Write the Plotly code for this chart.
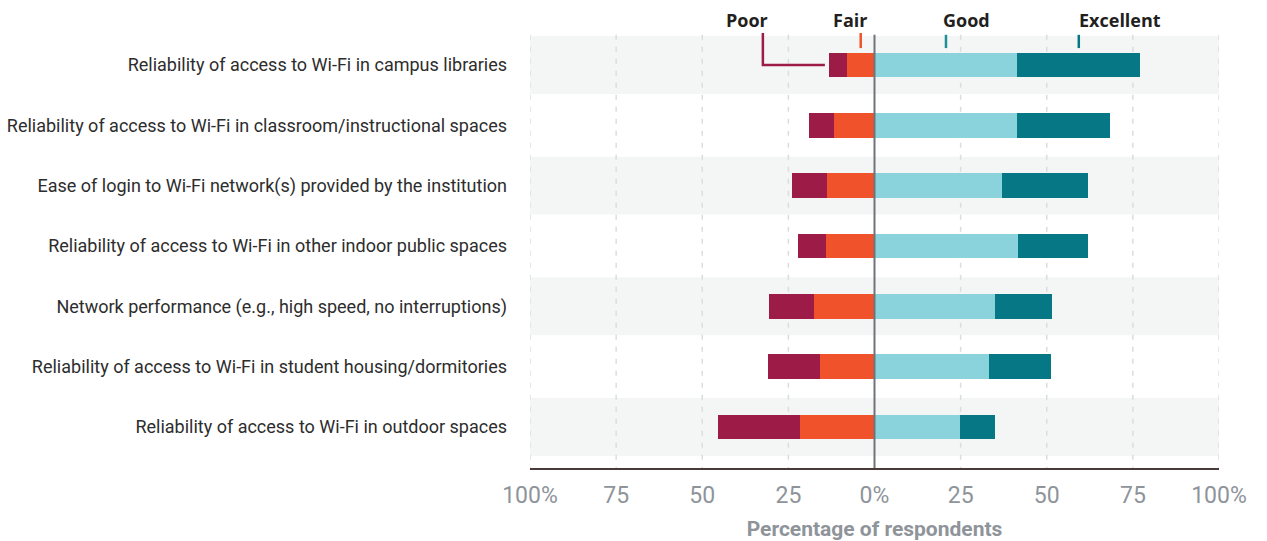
import plotly.graph_objects as go

categories = [
    "Reliability of access to Wi-Fi in campus libraries",
    "Reliability of access to Wi-Fi in classroom/instructional spaces",
    "Ease of login to Wi-Fi network(s) provided by the institution",
    "Reliability of access to Wi-Fi in other indoor public spaces",
    "Network performance (e.g., high speed, no interruptions)",
    "Reliability of access to Wi-Fi in student housing/dormitories",
    "Reliability of access to Wi-Fi in outdoor spaces",
]
poor = [5.2, 7.3, 10.2, 8.2, 13.1, 15.2, 23.9]
fair = [8.0, 11.7, 13.8, 14.1, 17.6, 15.8, 21.6]
good = [41.5, 41.3, 36.9, 41.6, 34.9, 33.1, 24.9]
excellent = [35.6, 27.0, 25.0, 20.3, 16.6, 18.1, 10.0]

tick_vals = [-100, -75, -50, -25, 0, 25, 50, 75, 100]
tick_text = ["100%", "75", "50", "25", "0%", "25", "50", "75", "100%"]

C_POOR = "#9d1c47"
C_FAIR = "#f0522b"
C_GOOD = "#8bd3dc"
C_EXC = "#067784"

ypos = list(range(len(categories)))
BAR_W = 0.41
Y_TOP = -1.077
Y_BOT = 6.68

fig = go.Figure()
fig.add_trace(go.Bar(y=ypos, x=[-v for v in fair], orientation="h", marker_color=C_FAIR,
                     width=BAR_W, name="Fair", marker_line_width=0))
fig.add_trace(go.Bar(y=ypos, x=[-v for v in poor], orientation="h", marker_color=C_POOR,
                     width=BAR_W, name="Poor", marker_line_width=0))
fig.add_trace(go.Bar(y=ypos, x=good, orientation="h", marker_color=C_GOOD,
                     width=BAR_W, name="Good", marker_line_width=0))
fig.add_trace(go.Bar(y=ypos, x=excellent, orientation="h", marker_color=C_EXC,
                     width=BAR_W, name="Excellent", marker_line_width=0))

shapes = []
# alternating bands
for i in range(0, len(categories), 2):
    shapes.append(dict(type="rect", xref="paper", yref="y", x0=0, x1=1, y0=i - 0.48, y1=i + 0.48,
                       fillcolor="#f4f6f6", line_width=0, layer="below"))
# dashed gridlines
for v in tick_vals:
    if v == 0:
        continue
    shapes.append(dict(type="line", xref="x", yref="y", x0=v, x1=v, y0=-0.5, y1=Y_BOT,
                       line=dict(color="#dadddf", width=1.5, dash="5px,7px"), layer="below"))
# zero line
shapes.append(dict(type="line", xref="x", yref="y", x0=0, x1=0, y0=-0.5, y1=Y_BOT,
                   line=dict(color="#6f7479", width=2), layer="above"))

# legend marker ticks (over first row segments)
fair_mid = -fair[0] / 2
good_mid = good[0] / 2
exc_mid = good[0] + excellent[0] / 2
shapes.append(dict(type="line", xref="x", yref="y", x0=fair_mid, x1=fair_mid, y0=-0.53, y1=-0.28,
                   line=dict(color=C_FAIR, width=2.5)))
shapes.append(dict(type="line", xref="x", yref="y", x0=good_mid, x1=good_mid, y0=-0.5, y1=-0.28,
                   line=dict(color="#1f8e99", width=2.5)))
shapes.append(dict(type="line", xref="x", yref="y", x0=exc_mid, x1=exc_mid, y0=-0.5, y1=-0.28,
                   line=dict(color=C_EXC, width=2.5)))
# Poor connector
poor_left = -(poor[0] + fair[0])
conn_x = -32.4
shapes.append(dict(type="path", xref="x", yref="y",
                   path=f"M {conn_x},-0.53 L {conn_x},0 L {poor_left - 1.2},0",
                   line=dict(color=C_POOR, width=2.5)))

legend_font = dict(family="Open Sans", size=18, color="#231f20", weight="bold")
annotations = [
    dict(x=conn_x + 2.0, y=-0.75, xref="x", yref="y", text="Poor", showarrow=False,
         xanchor="right", yanchor="middle", font=legend_font),
    dict(x=fair_mid + 2.5, y=-0.75, xref="x", yref="y", text="Fair", showarrow=False,
         xanchor="right", yanchor="middle", font=legend_font),
    dict(x=good_mid - 1.5, y=-0.75, xref="x", yref="y", text="Good", showarrow=False,
         xanchor="left", yanchor="middle", font=legend_font),
    dict(x=exc_mid - 0.5, y=-0.75, xref="x", yref="y", text="Excellent", showarrow=False,
         xanchor="left", yanchor="middle", font=legend_font),
]

fig.update_layout(
    width=1267, height=541,
    margin=dict(l=530, r=48, t=0, b=73),
    barmode="relative",
    bargap=0,
    showlegend=False,
    plot_bgcolor="white",
    paper_bgcolor="white",
    shapes=shapes,
    annotations=annotations,
    xaxis=dict(
        range=[-100, 100],
        tickvals=tick_vals,
        ticktext=tick_text,
        showgrid=False,
        zeroline=False,
        showline=True,
        linecolor="#4a3a3a",
        linewidth=2,
        ticks="",
        ticklabelstandoff=5,
        tickfont=dict(family="Roboto", size=23, color="#8e949a"),
        title=dict(text="Percentage of respondents",
                   font=dict(family="Roboto", size=21, color="#8e949a", weight="bold"),
                   standoff=14),
    ),
    yaxis=dict(
        range=[Y_BOT, Y_TOP],
        tickvals=ypos,
        ticktext=categories,
        showgrid=False,
        zeroline=False,
        showline=False,
        ticks="",
        ticklabelstandoff=22,
        tickfont=dict(family="Roboto", size=18, color="#2d2d2d"),
    ),
)

fig.write_html("out.html", config={"displayModeBar": False},
               post_script="document.body.style.margin='0';document.body.style.overflow='hidden';")
